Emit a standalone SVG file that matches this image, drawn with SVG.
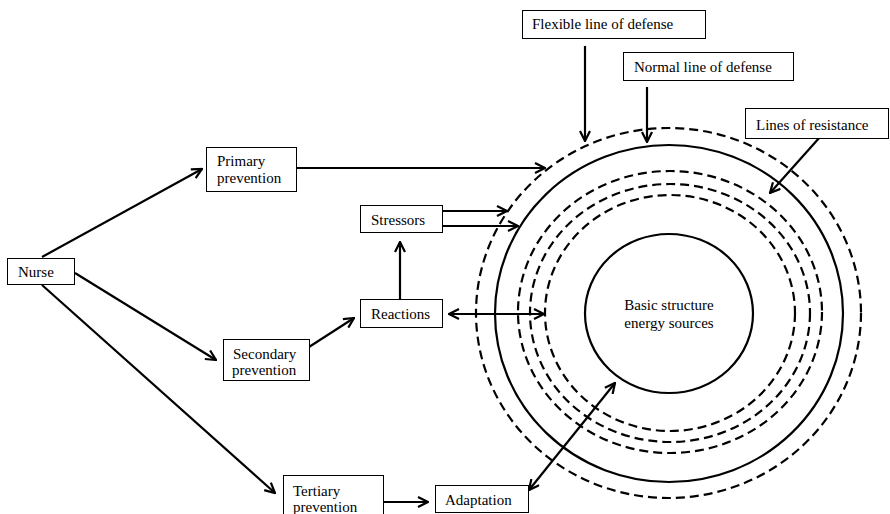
<svg xmlns="http://www.w3.org/2000/svg" width="890" height="514" viewBox="0 0 890 514">
<defs>
<style>
.box{fill:#fff;stroke:#000;stroke-width:1}
.t{font-family:"Liberation Serif","Times New Roman","DejaVu Serif",serif;font-size:15px;fill:#000}
.c{fill:none;stroke:#000;stroke-width:2.2}
.d{fill:none;stroke:#000;stroke-width:2.2;stroke-dasharray:9 5}
.a{fill:none;stroke:#000;stroke-width:2.2;marker-end:url(#ah)}
.a2{fill:none;stroke:#000;stroke-width:2.2;marker-end:url(#ah);marker-start:url(#ah)}
</style>
<marker id="ah" viewBox="0 0 12 12" refX="11" refY="6" markerWidth="12" markerHeight="12" markerUnits="userSpaceOnUse" orient="auto-start-reverse">
<path d="M1,1 L11,6 L1,11" fill="none" stroke="#000" stroke-width="2.2"/>
</marker>
</defs>
<rect width="890" height="514" fill="#fff"/>
<g id="rings">
<ellipse class="d" cx="668.5" cy="313" rx="192.5" ry="185"/>
<ellipse class="c" cx="669" cy="313.5" rx="174" ry="168.5"/>
<ellipse class="d" cx="670" cy="312" rx="152" ry="141"/>
<ellipse class="d" cx="670" cy="313" rx="140" ry="129"/>
<ellipse class="d" cx="670" cy="313" rx="125" ry="118"/>
</g>
<g id="core">
<ellipse class="c" cx="669" cy="313.5" rx="84" ry="79.5"/>
<text class="t" font-family="Liberation Serif, serif" x="669" y="310" text-anchor="middle">Basic structure</text>
<text class="t" font-family="Liberation Serif, serif" x="669" y="328" text-anchor="middle">energy sources</text>
</g>
<g id="connectors">
<line class="a" x1="42" y1="257" x2="202" y2="169"/>
<line class="a" x1="75" y1="273" x2="216" y2="360"/>
<line class="a" x1="42" y1="285" x2="275" y2="493"/>
<line class="a" x1="296" y1="168" x2="545" y2="168"/>
<line class="a" x1="309" y1="347" x2="354" y2="318"/>
<line class="a" x1="400" y1="299" x2="400" y2="242"/>
<line class="a" x1="442" y1="211" x2="507" y2="211"/>
<line class="a" x1="442" y1="226" x2="518" y2="226"/>
<line class="a2" x1="449" y1="314" x2="544" y2="314"/>
<line class="a2" x1="529" y1="490" x2="615" y2="383"/>
<line class="a" x1="383" y1="502" x2="428" y2="502"/>
<line class="a" x1="585" y1="46" x2="585" y2="141"/>
<line class="a" x1="647" y1="87" x2="647" y2="142"/>
<line class="a" x1="820" y1="137" x2="770" y2="193"/>
</g>
<g id="nurse">
<rect class="box" x="7.5" y="258.5" width="67" height="26"/>
<text class="t" font-family="Liberation Serif, serif" x="18" y="277">Nurse</text>
</g>
<g id="primary">
<rect class="box" x="206.5" y="147.5" width="90" height="44"/>
<text class="t" font-family="Liberation Serif, serif" x="217" y="166">Primary</text>
<text class="t" font-family="Liberation Serif, serif" x="217" y="183">prevention</text>
</g>
<g id="secondary">
<rect class="box" x="223.5" y="339.5" width="86" height="41"/>
<text class="t" font-family="Liberation Serif, serif" x="233" y="359">Secondary</text>
<text class="t" font-family="Liberation Serif, serif" x="232" y="375">prevention</text>
</g>
<g id="tertiary">
<rect class="box" x="283.5" y="475.5" width="100" height="45"/>
<text class="t" font-family="Liberation Serif, serif" x="293" y="496">Tertiary</text>
<text class="t" font-family="Liberation Serif, serif" x="293" y="512">prevention</text>
</g>
<g id="stressors">
<rect class="box" x="360.5" y="205.5" width="82" height="27"/>
<text class="t" font-family="Liberation Serif, serif" x="371" y="225">Stressors</text>
</g>
<g id="reactions">
<rect class="box" x="360.5" y="299.5" width="82" height="28"/>
<text class="t" font-family="Liberation Serif, serif" x="371" y="319">Reactions</text>
</g>
<g id="adaptation">
<rect class="box" x="435.5" y="485.5" width="93" height="27"/>
<text class="t" font-family="Liberation Serif, serif" x="445" y="505">Adaptation</text>
</g>
<g id="flexible">
<rect class="box" x="522.5" y="10.5" width="183" height="28"/>
<text class="t" font-family="Liberation Serif, serif" x="532" y="29">Flexible line of defense</text>
</g>
<g id="normal">
<rect class="box" x="623.5" y="52.5" width="170" height="28"/>
<text class="t" font-family="Liberation Serif, serif" x="634" y="72">Normal line of defense</text>
</g>
<g id="resistance">
<rect class="box" x="745.5" y="108.5" width="143" height="30"/>
<text class="t" font-family="Liberation Serif, serif" x="756" y="130">Lines of resistance</text>
</g>
</svg>
